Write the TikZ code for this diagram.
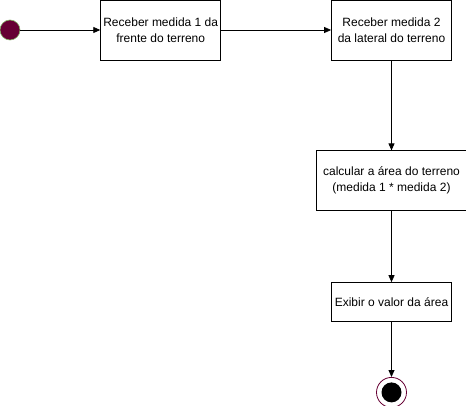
\documentclass[tikz,border=0pt]{standalone}
\usepackage{fontspec}
\setmainfont{Liberation Sans}
\usetikzlibrary{positioning,arrows.meta}
\definecolor{inicio}{HTML}{660033}
\definecolor{borda}{HTML}{82B366}
\begin{document}
\begin{tikzpicture}[x=1pt,y=-1pt,>={Triangle[length=7pt,width=6pt]},
  every node/.style={font=\fontsize{12}{16}\selectfont},
  acao/.style={draw,line width=0.8pt,minimum width=120pt,minimum height=60pt,align=center,inner sep=2pt},
  seta/.style={->,line width=0.8pt}]
\useasboundingbox (0,0) rectangle (466,406);
\node[circle,fill=inicio,draw=borda,line width=0.6pt,minimum size=20pt,inner sep=0pt] (ini) at (10,30) {};
\node[acao,right=80pt of ini] (m1) {Receber medida 1 da\\frente do terreno};
\node[acao,right=110pt of m1] (m2) {Receber medida 2\\da lateral do terreno};
\node[acao,below=90pt of m2,minimum width=150pt] (calc) {calcular a área do terreno\\(medida 1 * medida 2)};
\node[acao,below=71pt of calc,minimum height=39pt] (exib) {Exibir o valor da área};
\node[circle,draw=inicio,line width=0.8pt,minimum size=30pt,inner sep=0pt,below=55pt of exib] (fim) {};
\node[circle,fill=black,minimum size=20pt,inner sep=0pt] at (fim) {};
\draw[seta] (ini) -- (m1);
\draw[seta] (m1) -- (m2);
\draw[seta] (m2) -- (calc);
\draw[seta] (calc) -- (exib);
\draw[seta] (exib) -- (fim);
\end{tikzpicture}
\end{document}
